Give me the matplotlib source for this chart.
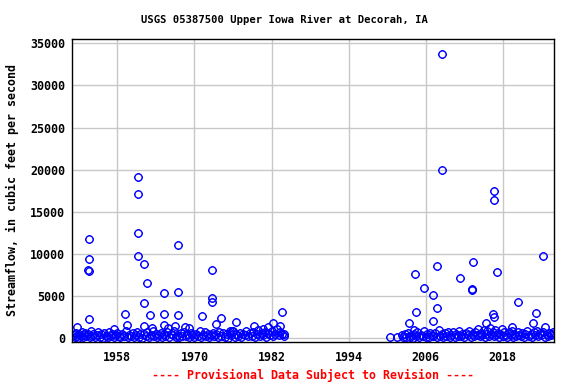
import numpy as np
import matplotlib
matplotlib.use("Agg")
import matplotlib.pyplot as plt
from matplotlib.path import Path

peak_years = [1953.6, 1953.6, 1953.5, 1953.6, 1953.6, 1951.8, 1961.3, 1961.3, 1961.3, 1961.3,
              1962.2, 1962.7, 1962.2, 1963.1, 1959.2, 1959.5, 1957.5, 1965.3, 1965.3, 1965.3,
              1967.5, 1967.5, 1967.5, 1967.0, 1968.55, 1969.2, 1965.9, 1963.4, 1962.2, 1971.2,
              1972.8, 1972.8, 1972.8, 1973.3, 1974.2, 1976.4, 1979.2, 1982.3, 1981.5, 1983.3,
              1983.7, 1983.9, 1980.75, 1975.9, 1975.5,
              2008.5, 2008.5, 2016.6, 2016.6, 2024.3, 2007.7, 2013.4, 2004.4, 2017.1, 2011.3,
              2013.2, 2013.2, 2005.7, 2007.2, 2007.8, 2004.5, 2020.3, 2023.1, 2016.5, 2016.6,
              2022.7, 2024.5, 2003.4, 2007.2, 2004.1, 2000.5, 2001.6, 2015.3, 2019.4, 2025.6]
peak_flows = [11800, 9400, 8100, 8000, 2300, 1380, 19100, 17100, 12500, 9750,
              8800, 6550, 4170, 2770, 2890, 1580, 1110, 5360, 2890, 1580,
              11070, 5480, 2770, 1460, 1380, 1260, 1200, 1260, 1460, 2650,
              8130, 4830, 4290, 1700, 2420, 1900, 1460, 1790, 1340, 1460,
              3100, 510, 1070, 900, 900,
              33700, 20000, 17500, 16400, 9750, 8570, 9050, 7620, 7860, 7140,
              5830, 5710, 5950, 5120, 3610, 3100, 4290, 2980, 2890, 2570,
              1790, 1340, 1790, 2060, 1030, 160, 160, 1790, 1340, 510]

# low flow measurements 1951-1984
early_years = [1951.2, 1951.4, 1951.5, 1951.7, 1951.9, 1952.1, 1952.3, 1952.5, 1952.6, 1952.8,
               1953.0, 1953.2, 1953.4, 1953.7, 1953.9, 1954.1, 1954.3, 1954.6, 1954.8, 1955.0,
               1955.3, 1955.5, 1955.8, 1956.0, 1956.2, 1956.5, 1956.7, 1957.0, 1957.2, 1957.5,
               1957.8, 1958.0, 1958.3, 1958.5, 1958.8, 1959.0, 1959.3, 1959.6, 1959.9, 1960.1,
               1960.4, 1960.6, 1960.9, 1961.1, 1961.4, 1961.6, 1961.9, 1962.1, 1962.4, 1962.7,
               1962.9, 1963.2, 1963.5, 1963.7, 1964.0, 1964.2, 1964.5, 1964.8, 1965.0, 1965.3,
               1965.5, 1965.8, 1966.1, 1966.3, 1966.6, 1966.8, 1967.1, 1967.3, 1967.6, 1967.9,
               1968.1, 1968.4, 1968.7, 1968.9, 1969.2, 1969.5, 1969.7, 1970.0, 1970.3, 1970.5,
               1970.8, 1971.0, 1971.3, 1971.6, 1971.8, 1972.1, 1972.3, 1972.6, 1972.9, 1973.1,
               1973.4, 1973.6, 1973.9, 1974.2, 1974.4, 1974.7, 1975.0, 1975.2, 1975.5, 1975.7,
               1976.0, 1976.3, 1976.5, 1976.8, 1977.1, 1977.3, 1977.6, 1977.8, 1978.1, 1978.4,
               1978.6, 1978.9, 1979.1, 1979.4, 1979.7, 1979.9, 1980.2, 1980.5, 1980.7, 1981.0,
               1981.2, 1981.5, 1981.8, 1982.0, 1982.3, 1982.5, 1982.8, 1983.1, 1983.3, 1983.6,
               1983.9]
early_flows = [420, 180, 650, 310, 90, 520, 240, 760, 150, 380,
               610, 220, 470, 130, 840, 290, 560, 110, 350, 700,
               200, 450, 80, 590, 330, 160, 720, 270, 500, 140,
               390, 680, 230, 100, 540, 310, 880, 170, 430, 260,
               620, 120, 370, 750, 210, 480, 90, 560, 300, 690,
               150, 410, 820, 250, 530, 110, 370, 640, 190, 460,
               280, 720, 130, 510, 350, 910, 200, 440, 160, 600,
               320, 780, 240, 470, 100, 650, 380, 180, 540, 290,
               860, 150, 420, 700, 230, 560, 120, 390, 680, 260,
               500, 170, 740, 330, 610, 210, 450, 90, 580, 360,
               820, 190, 470, 280, 650, 140, 530, 370, 900, 220,
               600, 310, 760, 160, 480, 940, 250, 570, 390, 710,
               180, 620, 430, 850, 270, 530, 1050, 340, 690, 460,
               300]

# low flow measurements 2002-2025
late_years = [2002.3, 2002.5, 2002.8, 2003.0, 2003.2, 2003.5, 2003.7, 2004.0, 2004.2, 2004.5,
              2004.7, 2005.0, 2005.2, 2005.5, 2005.7, 2006.0, 2006.2, 2006.5, 2006.7, 2007.0,
              2007.2, 2007.5, 2007.7, 2008.0, 2008.2, 2008.5, 2008.7, 2009.0, 2009.2, 2009.5,
              2009.7, 2010.0, 2010.2, 2010.5, 2010.7, 2011.0, 2011.2, 2011.5, 2011.7, 2012.0,
              2012.2, 2012.5, 2012.7, 2013.0, 2013.2, 2013.5, 2013.7, 2014.0, 2014.2, 2014.4,
              2014.6, 2014.8, 2015.0, 2015.2, 2015.4, 2015.6, 2015.8, 2016.0, 2016.2, 2016.4,
              2016.6, 2016.8, 2017.0, 2017.2, 2017.4, 2017.6, 2017.8, 2018.0, 2018.2, 2018.5,
              2018.7, 2019.0, 2019.2, 2019.4, 2019.6, 2019.8, 2020.0, 2020.3, 2020.5, 2020.8,
              2021.0, 2021.3, 2021.5, 2021.8, 2022.0, 2022.3, 2022.5, 2022.8, 2023.0, 2023.3,
              2023.5, 2023.8, 2024.0, 2024.3, 2024.5, 2024.8, 2025.0, 2025.2, 2025.5, 2025.8]
late_flows = [350, 120, 480, 210, 640, 170, 390, 90, 560, 280,
              730, 150, 440, 310, 860, 200, 520, 120, 680, 370,
              240, 590, 160, 950, 330, 470, 110, 620, 260, 780,
              180, 430, 690, 140, 510, 300, 840, 220, 470, 130,
              600, 350, 900, 190, 540, 280, 760, 410, 1100, 230,
              650, 370, 980, 160, 520, 840, 300, 1200, 450, 700,
              250, 930, 380, 610, 170, 540, 1050, 290, 760, 440,
              200, 690, 350, 880, 140, 520, 300, 760, 420, 230,
              610, 180, 470, 830, 260, 540, 130, 700, 390, 910,
              220, 580, 340, 760, 150, 490, 280, 650, 410, 700]

xticks = [1958, 1970, 1982, 1994, 2006, 2018]
yticks = [0, 5000, 10000, 15000, 20000, 25000, 30000, 35000]

# circle marker with four small nubs, like the USGS plots
circ = Path.unit_circle()
verts = list(circ.vertices)
codes = list(circ.codes)
for dx, dy in [(0, 1), (0, -1), (1, 0), (-1, 0)]:
    verts += [(dx * 1.0, dy * 1.0), (dx * 1.2, dy * 1.2)]
    codes += [Path.MOVETO, Path.LINETO]
marker = Path(verts, codes)

mono = "DejaVu Sans Mono"
fig = plt.figure(figsize=(5.76, 3.84), dpi=100)
ax = fig.add_axes([0.1255, 0.1086, 0.8368, 0.7891])

x = early_years + late_years + peak_years
y = early_flows + late_flows + peak_flows
ax.plot(x, y, linestyle="none", marker=marker, markersize=6.3,
        markerfacecolor="none", markeredgecolor="blue", markeredgewidth=1.0,
        antialiased=False)

ax.set_xlim(1951.0, 2026.0)
ax.set_ylim(-476, 35476)
ax.set_xticks(xticks)
ax.set_yticks(yticks)
ax.grid(True, color="#c8c8c8", linewidth=1.0)
ax.set_axisbelow(True)
ax.tick_params(length=0, labelsize=8.4)
ax.tick_params(axis="x", pad=6.5)
ax.tick_params(axis="y", pad=5)
for lab in ax.get_xticklabels() + ax.get_yticklabels():
    lab.set_fontfamily(mono)
    lab.set_fontweight("bold")
for s in ax.spines.values():
    s.set_color("black")
    s.set_linewidth(1.0)

fig.text(284 / 576, 1 - 20 / 384, "USGS 05387500 Upper Iowa River at Decorah, IA",
         ha="center", va="center", family=mono, weight="bold", fontsize=7.6)
fig.text(12 / 576, 0.505, "Streamflow, in cubic feet per second", rotation=90,
         ha="center", va="center", family=mono, weight="bold", fontsize=8.4)
fig.text(312.5 / 576, 1 - 375 / 384, "---- Provisional Data Subject to Revision ----",
         ha="center", va="center", family=mono, weight="bold", fontsize=8.4, color="red")

fig.savefig("out.png", dpi=100)
